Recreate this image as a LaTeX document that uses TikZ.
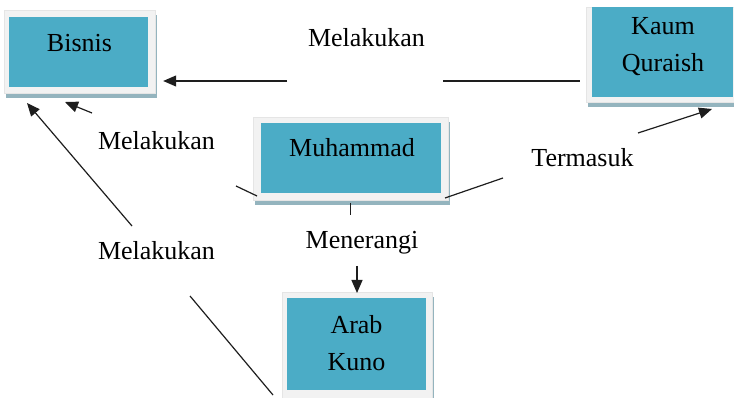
\documentclass[tikz,border=0pt]{standalone}
\usepackage{fontspec}
\setmainfont{Liberation Serif}
\usetikzlibrary{arrows.meta,fit}
\definecolor{tealc}{RGB}{75,172,198}
\definecolor{framec}{RGB}{242,242,242}
\definecolor{shadowc}{RGB}{148,180,190}
\definecolor{linec}{RGB}{30,30,30}
\newcommand\tealbox[9]{%
  \fill[shadowc] (#2+2,#3+5) rectangle (#4+2,#5+5);
  \fill[framec,draw=black!10,line width=0.5pt] (#2,#3) rectangle (#4,#5);
  \fill[tealc] (#6,#7) rectangle (#8,#9);
  \node[inner sep=0pt,fit={(#2,#3) (#4,#5)}] (#1) {};
}
\tikzset{
  ln/.style={draw=linec,line width=1.2pt},
  arr/.style={ln,-{Triangle[length=13pt,width=11pt]}},
  txt/.style={inner sep=0pt,anchor=base,font=\fontsize{26}{37}\selectfont,align=center},
}
\begin{document}
\begin{tikzpicture}[x=1pt,y=-1pt]
\useasboundingbox (0,0) rectangle (734,398);
% boxes
\tealbox{B}{4}{10}{155}{93}{9}{17}{148}{87}
\tealbox{Q}{586}{7}{745}{102}{592}{7}{733}{97}
\tealbox{M}{253}{117}{448}{200}{261}{123}{441}{193}
\tealbox{A}{282}{292}{432}{405}{287}{298}{426}{390}
% box texts (base = baseline of last line)
\node[txt] (tB) at (79.5,52) {Bisnis};
\node[txt] (tQ) at (663,72) {Kaum\\Quraish};
\node[txt] (tM) at (352,157) {Muhammad};
\node[txt] (tA) at (356.5,370) {Arab\\Kuno};
% labels
\node[txt] (l1) at (366.5,47) {Melakukan};
\node[txt] (l2) at (156.5,150) {Melakukan};
\node[txt] (l3) at (156.5,260) {Melakukan};
\node[txt] (l4) at (582.5,167) {Termasuk};
\node[txt] (l5) at (362,249) {Menerangi};
% connector coordinates
\coordinate (q1) at (Q.west |- 0,81);
\coordinate (g1) at (443,81);
\coordinate (g2) at (287,81);
\coordinate (b1) at (B.east |- 0,81);
\coordinate (m2a) at (257,196);
\coordinate (m2b) at (236,186);
\coordinate (b2a) at (92,113);
\coordinate (b2) at (65,102);
\coordinate (a3a) at (273,395);
\coordinate (a3b) at (190,296);
\coordinate (b3a) at (132,226);
\coordinate (b3) at (27,103);
\coordinate (m4a) at (445,198);
\coordinate (m4b) at (503,178);
\coordinate (q4a) at (638,133);
\coordinate (q4) at (712,109);
\coordinate (m5a) at (M.south |- 0,203);
\coordinate (m5b) at (M.south |- 0,215);
\coordinate (a5a) at (357,266);
\coordinate (a5) at (357,293);
% connectors
\draw[ln,shorten <=6pt] (q1) -- (g1);
\draw[arr,shorten >=8pt] (g2) -- (b1);
\draw[ln] (m2a) -- (m2b);
\draw[arr] (b2a) -- (b2);
\draw[ln] (a3a) -- (a3b);
\draw[arr] (b3a) -- (b3);
\draw[ln] (m4a) -- (m4b);
\draw[arr] (q4a) -- (q4);
\draw[ln] (m5a) -- (m5b);
\draw[arr] (a5a) -- (a5);
\end{tikzpicture}
\end{document}
